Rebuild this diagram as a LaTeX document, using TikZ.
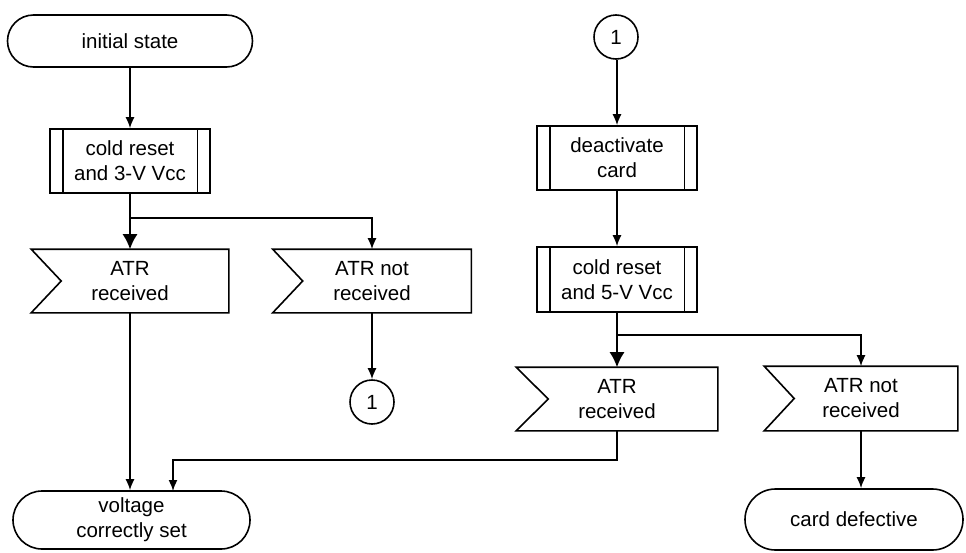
\documentclass[tikz,border=0pt]{standalone}
\usepackage{fontspec}
\setmainfont{Liberation Sans}
\usetikzlibrary{shapes.misc,arrows.meta}
\begin{document}
\begin{tikzpicture}[x=1pt,y=-1pt,
  line width=1.6pt,
  every node/.style={font=\fontsize{20.5}{25}\selectfont, align=center, inner sep=0pt},
  term/.style={draw, rounded rectangle},
  procbox/.style={draw, rectangle, minimum width=160pt, minimum height=64pt},
  recvbox/.style={rectangle, minimum height=62pt},
  conn/.style={draw, circle, minimum size=44pt},
  arr/.style={-{Latex[length=11pt,width=9pt]}},
  bigarr/.style={-{Latex[length=15pt,width=15pt]}}
]
\useasboundingbox[fill=white] (0,0) rectangle (966,552);

% left column
\node[term, minimum width=245pt, minimum height=52pt] (init) at (130,41) {initial state};
\node[procbox] (cr3) at (130,161) {cold reset\\and 3-V Vcc};
\node[recvbox, minimum width=196pt] (atr1) at (130,281) {ATR\\received};
\node[recvbox, minimum width=197pt] (natr1) at (372,281) {ATR not\\received};
\node[conn] (c1b) at (372,402) {1};
\node[term, minimum width=237pt, minimum height=58pt] (vcs) at (131.5,520) {voltage\\correctly set};

% right column
\node[conn] (c1a) at (616,37) {1};
\node[procbox] (deact) at (617,158) {deactivate\\card};
\node[procbox, minimum height=65pt] (cr5) at (617,279.5) {cold reset\\and 5-V Vcc};
\node[recvbox, minimum width=200pt] (atr2) at (617,399) {ATR\\received};
\node[recvbox, minimum width=192pt, minimum height=63pt] (natr2) at (861,398.5) {ATR not\\received};
\node[term, minimum width=218pt, minimum height=61pt] (cd) at (854,519.5) {card defective};

% receive-signal outlines
\foreach \n/\d in {atr1/30,natr1/30,atr2/32,natr2/30}
  \draw (\n.north west) -- (\n.north east) -- (\n.south east) -- (\n.south west) -- ([xshift=\d pt]\n.west) -- cycle;
% predefined-process side bars
\foreach \n in {cr3,deact,cr5}{
  \draw ([xshift=13.5pt]\n.north west) -- ([xshift=13.5pt]\n.south west);
  \draw ([xshift=-13.5pt]\n.north east) -- ([xshift=-13.5pt]\n.south east);
}

% helper coordinates
\coordinate (j1) at (130,218);
\coordinate (j2) at (617,335);
\coordinate (j3) at (617,460);
\coordinate (vin) at (173,491);

% connectors, left
\draw[arr] (init.south -| cr3.north) -- (cr3.north);
\draw[bigarr] (cr3.south) -- (atr1.north -| cr3.south);
\draw[arr] (cr3.south) -- (j1) -| (natr1.north);
\draw[arr] (natr1.south -| c1b.north) -- (c1b.north);
\draw[arr] (atr1.south) -- (atr1.south |- vcs.north);
\draw[arr] (atr2.south) -- (j3) -| (vin);

% connectors, right
\draw[arr] (c1a.south -| deact.north) -- (deact.north);
\draw[arr] (deact.south) -- (cr5.north);
\draw[bigarr] (cr5.south) -- (atr2.north);
\draw[arr] (cr5.south) -- (j2) -| (natr2.north);
\draw[arr] (natr2.south) -- (natr2.south |- cd.north);
\end{tikzpicture}
\end{document}
